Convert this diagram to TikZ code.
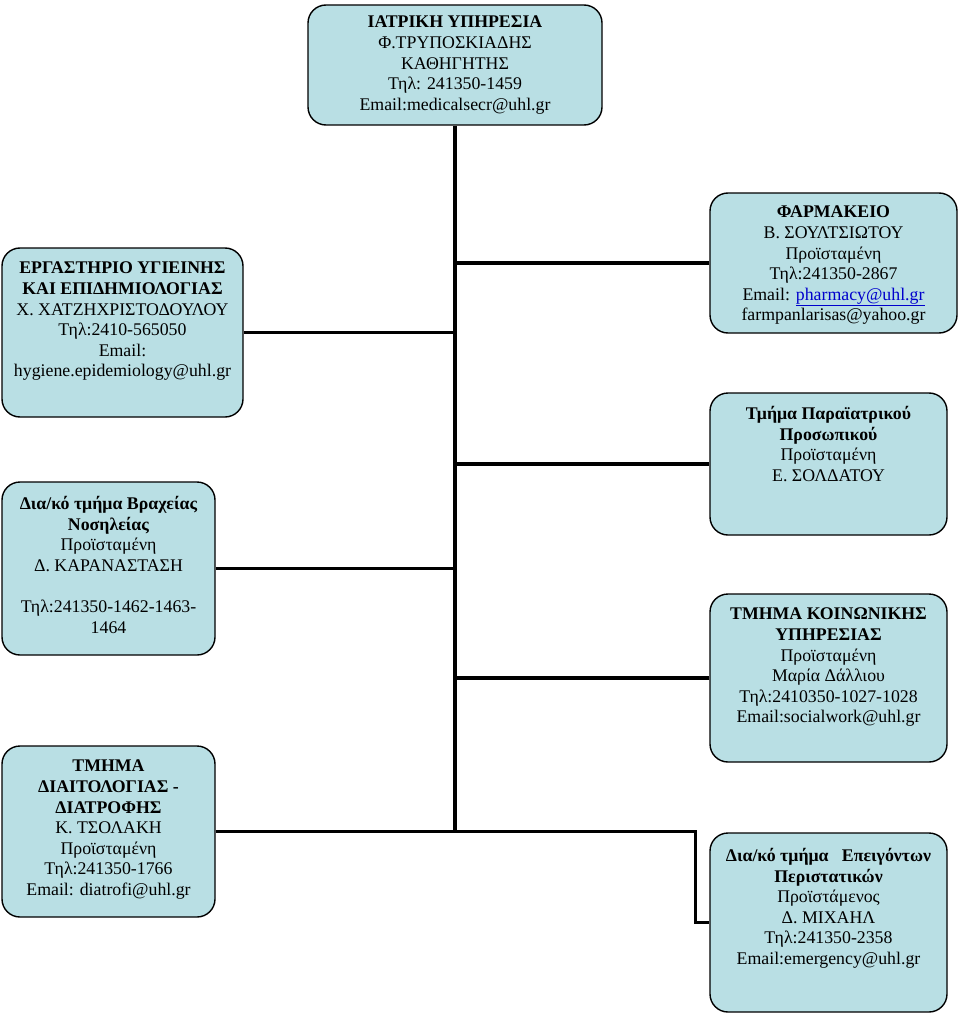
\documentclass[tikz,border=0pt]{standalone}
\usepackage{fontspec}
\setmainfont{Liberation Serif}
\usetikzlibrary{calc}
\definecolor{boxfill}{RGB}{185,223,228}
\definecolor{linkblue}{RGB}{0,0,204}
\begin{document}
\begin{tikzpicture}[x=1pt,y=-1pt,
  orgbox/.style={draw=black, line width=1.4pt, fill=boxfill, rounded corners=18pt, inner sep=0pt},
  txt/.style={align=center, inner sep=0pt, anchor=north, font=\fontsize{17.8}{20.6}\selectfont},
  conn/.style={draw=black, line width=3.6pt}]
\useasboundingbox (0,0) rectangle (960,1019);

% boxes
\node[orgbox, minimum width=294pt, minimum height=120pt] (top) at (455,65) {};
\node[orgbox, minimum width=241pt, minimum height=169pt] (lab) at (122.5,332.5) {};
\node[orgbox, minimum width=247pt, minimum height=140pt] (pharm) at (833.5,263) {};
\node[orgbox, minimum width=213pt, minimum height=173pt] (brax) at (108.5,568.5) {};
\node[orgbox, minimum width=237pt, minimum height=142pt] (parai) at (828.5,464) {};
\node[orgbox, minimum width=237pt, minimum height=168pt] (koin) at (828.5,678) {};
\node[orgbox, minimum width=213pt, minimum height=171pt] (diait) at (108.5,831.5) {};
\node[orgbox, minimum width=237pt, minimum height=179pt] (emerg) at (828.5,922.5) {};

% texts
\node[txt] (topt) at (455,16) {\textbf{ΙΑΤΡΙΚΗ ΥΠΗΡΕΣΙΑ}\\Φ.ΤΡΥΠΟΣΚΙΑΔΗΣ\\ΚΑΘΗΓΗΤΗΣ\\Τηλ: 241350-1459\\Email:medicalsecr@uhl.gr};
\node[txt] (labt) at (122.5,262) {\textbf{ΕΡΓΑΣΤΗΡΙΟ ΥΓΙΕΙΝΗΣ}\\\textbf{ΚΑΙ ΕΠΙΔΗΜΙΟΛΟΓΙΑΣ}\\Χ. ΧΑΤΖΗΧΡΙΣΤΟΔΟΥΛΟΥ\\Τηλ:2410-565050\\Email:\\hygiene.epidemiology@uhl.gr};
\node[txt] (pharmt) at (833.5,206) {\textbf{ΦΑΡΜΑΚΕΙΟ}\\Β. ΣΟΥΛΤΣΙΩΤΟΥ\\Προϊσταμένη\\Τηλ:241350-2867\\Email: {\color{linkblue}\underline{pharmacy@uhl.gr}}\\farmpanlarisas@yahoo.gr};
\node[txt] (braxt) at (108.5,496) {\textbf{Δια/κό τμήμα Βραχείας}\\\textbf{Νοσηλείας}\\Προϊσταμένη\\Δ. ΚΑΡΑΝΑΣΤΑΣΗ\\[20.6pt]Τηλ:241350-1462-1463-\\1464};
\node[txt] (parait) at (828.5,406) {\textbf{Τμήμα Παραϊατρικού}\\\textbf{Προσωπικού}\\Προϊσταμένη\\Ε. ΣΟΛΔΑΤΟΥ};
\node[txt] (koint) at (828.5,608) {\textbf{ΤΜΗΜΑ ΚΟΙΝΩΝΙΚΗΣ}\\\textbf{ΥΠΗΡΕΣΙΑΣ}\\Προϊσταμένη\\Μαρία Δάλλιου\\Τηλ:2410350-1027-1028\\Email:socialwork@uhl.gr};
\node[txt] (diaitt) at (108.5,760) {\textbf{ΤΜΗΜΑ}\\\textbf{ΔΙΑΙΤΟΛΟΓΙΑΣ -}\\\textbf{ΔΙΑΤΡΟΦΗΣ}\\Κ. ΤΣΟΛΑΚΗ\\Προϊσταμένη\\Τηλ:241350-1766\\Email: diatrofi@uhl.gr};
\node[txt] (emergt) at (828.5,848) {\textbf{Δια/κό τμήμα\ \ \ Επειγόντων}\\\textbf{Περιστατικών}\\Προϊστάμενος\\Δ. ΜΙΧΑΗΛ\\Τηλ:241350-2358\\Email:emergency@uhl.gr};

% connectors
\coordinate (trunkend) at (top.south |- diait.east);
\draw[conn] (top.south) -- (trunkend);
\draw[conn] (pharm.west) -- (pharm.west -| top.south);
\draw[conn] (lab.east) -- (lab.east -| top.south);
\draw[conn] (parai.west) -- (parai.west -| top.south);
\draw[conn] (brax.east) -- (brax.east -| top.south);
\draw[conn] (koin.west) -- (koin.west -| top.south);
\coordinate (elbow) at ($(emerg.west |- diait.east)+(-14,0)$);
\draw[conn] (diait.east) -- (elbow) |- (emerg.west);
\end{tikzpicture}
\end{document}
